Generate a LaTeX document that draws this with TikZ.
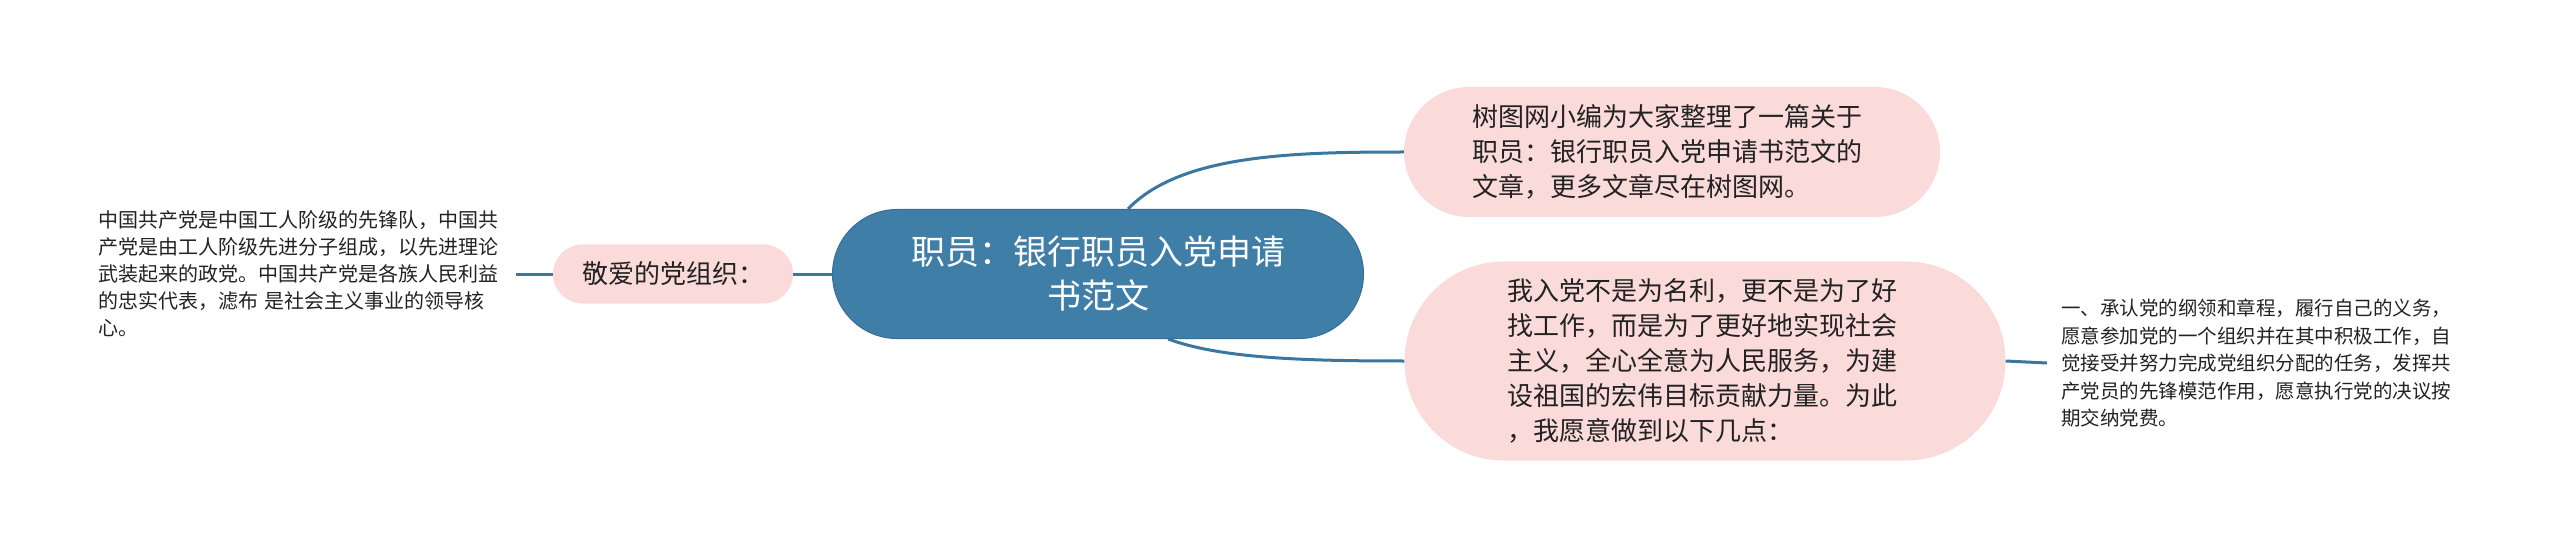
\documentclass[tikz,border=0pt]{standalone}
\usepackage{fontspec}
\setmainfont{Noto Sans CJK SC}
\usetikzlibrary{shapes.misc}
\definecolor{mainblue}{HTML}{3F7EA7}
\definecolor{mainborder}{HTML}{356F96}
\definecolor{pinkfill}{HTML}{FADBD9}
\definecolor{linkblue}{HTML}{3A76A0}
\definecolor{txt}{HTML}{222222}
\begin{document}
\begin{tikzpicture}[x=1pt,y=-1pt,
  link/.style={draw=linkblue,line width=3pt},
  pill/.style={rounded rectangle, fill=pinkfill, draw=none, inner sep=0pt, text=txt},
  mainpill/.style={rounded rectangle, fill=mainblue, draw=mainborder, line width=1pt, inner sep=0pt, text=white,
    font=\fontsize{34pt}{44pt}\selectfont, align=center},
  bigtxt/.style={font=\fontsize{26pt}{35pt}\selectfont, align=left},
  smalltxt/.style={font=\fontsize{20pt}{27pt}\selectfont, align=left, text=txt, inner sep=0pt}
]
\useasboundingbox (0,0) rectangle (2560,548);

\node[smalltxt, text width=410pt] (lefttext) at (303,274) {中国共产党是中国工人阶级的先锋队，中国共\\产党是由工人阶级先进分子组成，以先进理论\\武装起来的政党。中国共产党是各族人民利益\\的忠实代表，滤布 是社会主义事业的领导核\\心。};

\node[pill, minimum width=240pt, minimum height=59pt, font=\fontsize{26pt}{35pt}\selectfont] (leftnode) at (673,274) {敬爱的党组织：};

\node[mainpill, minimum width=531pt, minimum height=129pt] (main) at (1098,274) {职员：银行职员入党申请\\书范文};

\node[pill, bigtxt, minimum width=536pt, minimum height=130pt, text width=400pt] (top) at (1672,152) {树图网小编为大家整理了一篇关于\\职员：银行职员入党申请书范文的\\文章，更多文章尽在树图网。};

\node[pill, bigtxt, minimum width=601pt, minimum height=199pt, text width=396pt] (bottom) at (1705,361) {我入党不是为名利，更不是为了好\\找工作，而是为了更好地实现社会\\主义，全心全意为人民服务，为建\\设祖国的宏伟目标贡献力量。为此\\，我愿意做到以下几点：};

\node[smalltxt, font=\fontsize{19.5pt}{27.5pt}\selectfont, text width=400pt] (righttext) at (2261,363) {一、承认党的纲领和章程，履行自己的义务，\\愿意参加党的一个组织并在其中积极工作，自\\觉接受并努力完成党组织分配的任务，发挥共\\产党员的先锋模范作用，愿意执行党的决议按\\期交纳党费。};

\draw[link] ([xshift=8pt]lefttext.east) -- (leftnode.west);
\draw[link] (leftnode.east) -- (main.west);
\draw[link] ([xshift=30pt]main.north) .. controls (1180,155) and (1290,152) .. (top.west);
\draw[link] ([xshift=70pt]main.south) .. controls (1220,358) and (1300,361) .. (bottom.west);
\draw[link] (bottom.east) -- ([xshift=-14pt]righttext.west);
\end{tikzpicture}
\end{document}
